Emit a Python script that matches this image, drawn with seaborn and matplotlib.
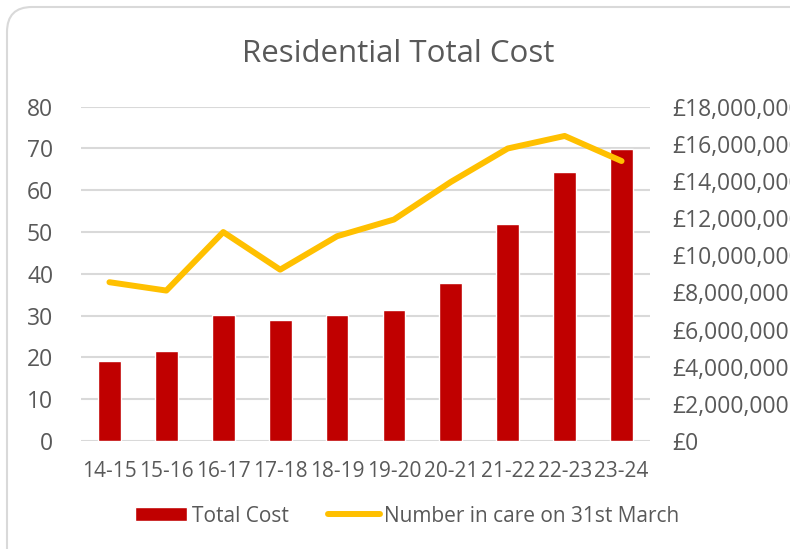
import matplotlib
matplotlib.use("Agg")
import matplotlib.pyplot as plt
import matplotlib.ticker as mticker
from matplotlib.patches import FancyBboxPatch
import seaborn as sns
import pandas as pd

# values
years = ['14-15', '15-16', '16-17', '17-18', '18-19', '19-20', '20-21', '21-22', '22-23', '23-24']
total_cost = [4300000, 4840000, 6770000, 6500000, 6770000, 7040000, 8500000, 11660000, 14470000, 15730000]
number_in_care = [38, 36, 50, 41, 49, 53, 62, 70, 73, 67]

df = pd.DataFrame({'year': years, 'cost': total_cost, 'number': number_in_care})

sns.set_style('white')
plt.rcParams['font.family'] = ['Open Sans', 'DejaVu Sans']
grey = '#595959'
red = '#C00000'
gold = '#FFC000'

fig = plt.figure(figsize=(7.9, 5.49), dpi=100)
ax = fig.add_axes([81/790, 1-441/549, (650-81)/790, (441-106.7)/549])
ax2 = ax.twinx()   # bars, pounds scale on the right
ax3 = ax.twinx()   # line on top, same scale as left axis

# bars
sns.barplot(data=df, x='year', y='cost', color=red, saturation=1, width=0.4,
            ax=ax2, label='Total Cost', legend=False)
ax2.set_ylim(0, 18000000)
ax2.yaxis.set_major_locator(mticker.MultipleLocator(2000000))
ax2.yaxis.set_major_formatter(mticker.FuncFormatter(lambda v, p: '£{:,.0f}'.format(v)))
ax2.tick_params(axis='y', length=0, pad=16, labelsize=16.5, labelcolor=grey)
ax2.set_ylabel('')
if ax2.get_legend() is not None:
    ax2.get_legend().remove()

# line
sns.lineplot(data=df, x='year', y='number', color=gold, linewidth=4.3, sort=False,
             ax=ax3, label='Number in care on 31st March')
for l in ax3.lines:
    l.set_solid_capstyle('round')
    l.set_solid_joinstyle('round')
ax3.set_ylim(0, 80)
ax3.set_yticks([])
ax3.set_ylabel('')
if ax3.get_legend() is not None:
    ax3.get_legend().remove()

# left axis with grid
ax.set_ylim(0, 80)
ax.yaxis.set_major_locator(mticker.MultipleLocator(10))
ax.grid(axis='y', color='#D9D9D9', linewidth=1.5)
ax.grid(axis='x', visible=False)
ax.tick_params(axis='y', length=0, pad=20, labelsize=16.5, labelcolor=grey)
ax.tick_params(axis='x', length=0, pad=14.5, labelsize=15, labelcolor=grey)
ax.set_xlim(-0.5, len(years) - 0.5)
ax.set_xlabel('')
ax.set_ylabel('')
ax2.set_xlabel('')
ax3.set_xlabel('')

for a in (ax, ax2, ax3):
    for s in a.spines.values():
        s.set_visible(False)

fig.text(0.504, 1-62/549, 'Residential Total Cost', ha='center', va='baseline',
         fontsize=22.5, color=grey)

h2, l2 = ax2.get_legend_handles_labels()
h3, l3 = ax3.get_legend_handles_labels()
fig.legend(h2 + h3, l2 + l3, loc='center', bbox_to_anchor=(407.5/790, 1-516/549),
           ncol=2, frameon=False, fontsize=15, labelcolor=grey,
           handlelength=2.5, handleheight=0.63, handletextpad=0.2, columnspacing=1.9)

# rounded chart border
fig.patches.append(FancyBboxPatch((7, -40), 830, 542 + 40, boxstyle='round,pad=0,rounding_size=25',
                                  transform=None, facecolor='none', edgecolor='#D9D9D9',
                                  linewidth=1.5, figure=fig))

fig.savefig('out.png', dpi=100)
